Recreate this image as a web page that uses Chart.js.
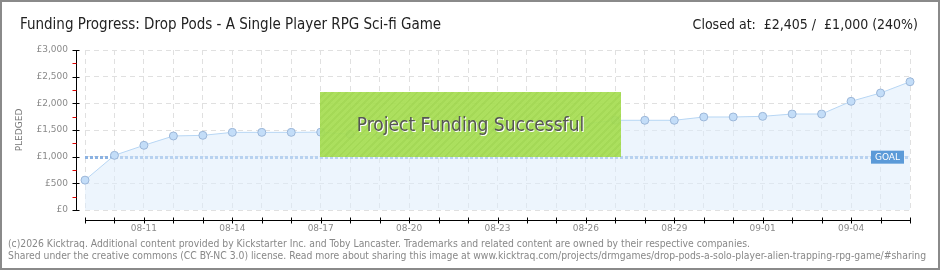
<!DOCTYPE html>
<html>
<head>
<meta charset="utf-8">
<script src="https://cdn.jsdelivr.net/npm/chart.js@4.4.1/dist/chart.umd.min.js"></script>
<style>
  body { margin: 0; background: #fff; }
  #wrap { position: relative; width: 940px; height: 270px; overflow: hidden; font-family: "Liberation Sans Narrow", "DejaVu Sans Condensed", sans-serif; }
  #frame { position: absolute; left: 0; top: 0; width: 940px; height: 270px; box-sizing: border-box; border: 2px solid #8a8a8a; pointer-events: none; }
  .title { position: absolute; top: 15px; color: #222; white-space: nowrap; }
  #t-left { left: 20px; font-size: 15px; }
  #t-right { right: 22px; font-size: 14px; top: 16px; }
  #success { position: absolute; left: 320px; top: 92px; width: 301px; height: 65px;
    background: repeating-linear-gradient(135deg, rgba(166,221,82,0.93) 0 3px, rgba(158,214,74,0.93) 3px 5px);
    color: #555; font-size: 19px; line-height: 65px; text-align: center; text-shadow: 1px 1px 0 #fff; }
  .foot { position: absolute; left: 8px; font-size: 10.3px; color: #888; white-space: nowrap; }
</style>
</head>
<body>
<div id="wrap">
  <canvas id="chart" width="940" height="270"></canvas>
  <div class="title" id="t-left">Funding Progress: Drop Pods - A Single Player RPG Sci-fi Game</div>
  <div class="title" id="t-right">Closed at:&nbsp; £2,405 /&nbsp; £1,000 (240%)</div>
  <div id="success">Project Funding Successful</div>
  <div class="foot" style="top:237px">(c)2026 Kicktraq. Additional content provided by Kickstarter Inc. and Toby Lancaster. Trademarks and related content are owned by their respective companies.</div>
  <div class="foot" style="top:249px">Shared under the creative commons (CC BY-NC 3.0) license. Read more about sharing this image at www.kicktraq.com/projects/drmgames/drop-pods-a-solo-player-alien-trapping-rpg-game/#sharing</div>
  <div id="frame"></div>
</div>
<script>
// days of the campaign (Aug 9 - Sep 6)
const dates = [
  '08-09', '08-10', '08-11', '08-12', '08-13', '08-14', '08-15', '08-16', '08-17', '08-18',
  '08-19', '08-20', '08-21', '08-22', '08-23', '08-24', '08-25', '08-26', '08-27', '08-28',
  '08-29', '08-30', '08-31', '09-01', '09-02', '09-03', '09-04', '09-05', '09-06'
];
// pledged total (GBP) per day
const pledged = [
  560, 1025, 1213, 1388, 1400, 1456, 1456, 1456, 1460, 1420,
  1410, 1406, 1419, 1468, 1510, 1550, 1590, 1618, 1682, 1682,
  1682, 1744, 1744, 1756, 1800, 1800, 2038, 2194, 2405
];
const goal = 1000;
const yTicks = [0, 500, 1000, 1500, 2000, 2500, 3000];

const gridColor = '#e0e0e0';

// axis lines, tick marks, goal line + label
const extras = {
  id: 'extras',
  beforeDatasetsDraw(chart) {
    const { ctx, chartArea, scales: { y } } = chart;
    const gy = Math.round(y.getPixelForValue(goal)) + 0.5;
    ctx.save();
    ctx.strokeStyle = '#8bb2e2';
    ctx.lineWidth = 3;
    ctx.setLineDash([3, 2]);
    ctx.beginPath();
    ctx.moveTo(chartArea.left, gy);
    ctx.lineTo(chartArea.right, gy);
    ctx.stroke();
    ctx.restore();
  },
  afterDraw(chart) {
    const { ctx, chartArea, scales: { x, y } } = chart;
    ctx.save();
    // y axis
    const ax = 76.5;
    ctx.strokeStyle = '#000';
    ctx.lineWidth = 1;
    ctx.beginPath();
    ctx.moveTo(ax, chartArea.top);
    ctx.lineTo(ax, chartArea.bottom);
    yTicks.forEach(v => {
      const py = Math.round(y.getPixelForValue(v)) + 0.5;
      ctx.moveTo(ax - 4, py);
      ctx.lineTo(ax + 3, py);
    });
    ctx.stroke();
    ctx.strokeStyle = '#e00000';
    ctx.beginPath();
    for (let v = 250; v < 3000; v += 500) {
      const py = Math.round(y.getPixelForValue(v)) + 0.5;
      ctx.moveTo(ax - 4, py);
      ctx.lineTo(ax, py);
    }
    ctx.stroke();
    // x axis
    const ay = 220.5;
    ctx.strokeStyle = '#000';
    ctx.beginPath();
    ctx.moveTo(chartArea.left, ay);
    ctx.lineTo(chartArea.right, ay);
    dates.forEach((d, i) => {
      const px = Math.round(x.getPixelForValue(i)) + 0.5;
      ctx.moveTo(px, ay - 3);
      ctx.lineTo(px, ay + 3);
    });
    ctx.stroke();
    // goal label
    const gy = y.getPixelForValue(goal);
    ctx.fillStyle = '#5b9ad8';
    ctx.fillRect(871, gy - 6, 33, 13);
    ctx.fillStyle = '#fff';
    ctx.font = '9px "DejaVu Sans"';
    ctx.textAlign = 'center';
    ctx.textBaseline = 'middle';
    ctx.fillText('GOAL', 887.5, gy + 0.5);
    ctx.restore();
  }
};

new Chart(document.getElementById('chart'), {
  type: 'line',
  data: {
    labels: dates,
    datasets: [{
      label: 'Pledged',
      data: pledged,
      borderColor: '#b7d6f4',
      borderWidth: 1,
      backgroundColor: 'rgba(222,236,251,0.55)',
      fill: 'origin',
      tension: 0,
      pointRadius: 4,
      pointBackgroundColor: '#c3ddf8',
      pointBorderColor: '#9bb6d8',
      pointBorderWidth: 1,
      clip: false
    }]
  },
  options: {
    responsive: false,
    animation: false,
    events: [],
    layout: { padding: { top: 50, right: 30, bottom: 0, left: 0 } },
    plugins: { legend: { display: false }, tooltip: { enabled: false } },
    scales: {
      x: {
        type: 'category',
        offset: false,
        afterFit(s) { s.height = 60; },
        border: { display: false, dash: [5, 4] },
        grid: { color: gridColor, drawTicks: false },
        ticks: {
          autoSkip: false,
          maxRotation: 0,
          padding: 13,
          color: '#8a8a8a',
          font: { family: 'DejaVu Sans', size: 9 },
          callback: (v, i) => ((i - 2) % 3 === 0 ? dates[i] : '')
        }
      },
      y: {
        min: 0,
        max: 3000,
        afterFit(s) { s.width = 85; },
        afterBuildTicks(s) { s.ticks = yTicks.map(v => ({ value: v })); },
        border: { display: false, dash: [5, 4] },
        grid: { color: gridColor, drawTicks: false },
        title: {
          display: true,
          text: 'PLEDGED',
          color: '#777',
          font: { family: 'DejaVu Sans', size: 9 },
          padding: { top: 14, bottom: 0 }
        },
        ticks: {
          padding: 17,
          color: '#8a8a8a',
          font: { family: 'DejaVu Sans', size: 9 },
          callback: v => '£' + v.toLocaleString('en-GB')
        }
      }
    }
  },
  plugins: [extras]
});
</script>
</body>
</html>
